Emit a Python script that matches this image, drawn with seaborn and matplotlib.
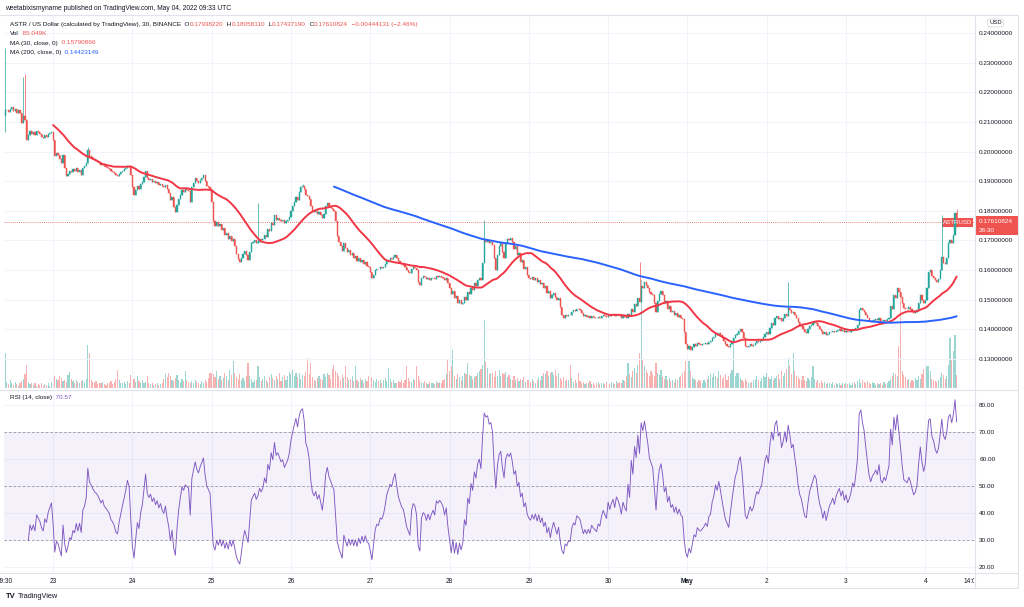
import numpy as np
import pandas as pd
import matplotlib.pyplot as plt
import seaborn as sns
from matplotlib.patches import Rectangle
from matplotlib.lines import Line2D

# ASTR / USD, 30 minute candles, closes in units of 0.0001 USD (one list per day)
apr22 = [2140, 2140, 2135, 2145, 2150, 2138, 2145, 2130, 2140, 2130, 2095, 2120, 2105, 2040, 2055,
         2070, 2060, 2065, 2055, 2070, 2065, 2060, 2050, 2045, 2055, 2050, 2058, 2062, 2066]
apr23 = [2040, 1985, 1995, 1990, 1975, 1960, 1990, 1945, 1918, 1925, 1935, 1930, 1940, 1935, 1945, 1930,
         1938, 1920, 1945, 1950, 1960, 2005, 1985, 1980, 1975, 1970, 1968, 1965, 1960, 1955, 1958, 1950,
         1948, 1945, 1942, 1935, 1932, 1928, 1920, 1918, 1925, 1930, 1935, 1940, 1945, 1952, 1948, 1920]
apr24 = [1880, 1855, 1870, 1885, 1875, 1890, 1898, 1915, 1935, 1910, 1904, 1908, 1898, 1902, 1893, 1897,
         1888, 1892, 1884, 1880, 1886, 1872, 1860, 1838, 1846, 1812, 1795, 1820, 1840, 1855, 1870, 1865,
         1872, 1870, 1868, 1830, 1880, 1895, 1910, 1900, 1895, 1905, 1912, 1920, 1900, 1885, 1880, 1875]
apr25 = [1830, 1765, 1750, 1762, 1748, 1755, 1735, 1742, 1718, 1725, 1705, 1715, 1698, 1705, 1682, 1655,
         1638, 1628, 1640, 1655, 1665, 1650, 1635, 1660, 1690, 1695, 1700, 1690, 1695, 1705, 1700, 1705,
         1718, 1712, 1738, 1732, 1760, 1752, 1785, 1770, 1775, 1770, 1765, 1768, 1760, 1765, 1770, 1780]
apr26 = [1800, 1815, 1830, 1845, 1838, 1865, 1880, 1885, 1875, 1855, 1850, 1840, 1815, 1800, 1795, 1800,
         1790, 1795, 1785, 1775, 1790, 1815, 1825, 1815, 1810, 1805, 1800, 1765, 1715, 1695, 1680, 1665,
         1690, 1675, 1660, 1668, 1652, 1658, 1642, 1648, 1632, 1640, 1628, 1635, 1622, 1628, 1615, 1612]
apr27 = [1595, 1572, 1585, 1600, 1605, 1603, 1610, 1608, 1612, 1620, 1630, 1635, 1640, 1638, 1645, 1650,
         1640, 1630, 1625, 1620, 1618, 1610, 1600, 1595, 1590, 1605, 1610, 1608, 1600, 1560, 1550, 1575,
         1580, 1578, 1570, 1575, 1568, 1572, 1575, 1570, 1580, 1578, 1580, 1578, 1575, 1568, 1572, 1555]
apr28 = [1540, 1520, 1528, 1505, 1512, 1490, 1498, 1485, 1490, 1508, 1500, 1525, 1518, 1540, 1532, 1555,
         1548, 1568, 1575, 1565, 1625, 1700, 1695, 1700, 1690, 1695, 1685, 1640, 1600, 1650, 1680, 1690,
         1660, 1640, 1690, 1705, 1700, 1710, 1695, 1672, 1680, 1650, 1658, 1628, 1635, 1605, 1612, 1585]
apr29 = [1575, 1570, 1578, 1568, 1575, 1560, 1568, 1552, 1558, 1540, 1545, 1522, 1528, 1505, 1515, 1522,
         1510, 1498, 1505, 1475, 1450, 1440, 1450, 1445, 1450, 1448, 1460, 1465, 1462, 1470, 1468, 1465,
         1455, 1445, 1448, 1442, 1445, 1440, 1445, 1442, 1440, 1438, 1442, 1440, 1445, 1448, 1445, 1442]
apr30 = [1450, 1445, 1448, 1450, 1445, 1450, 1448, 1445, 1440, 1445, 1442, 1440, 1452, 1445, 1468, 1460,
         1485, 1478, 1505, 1492, 1545, 1538, 1560, 1550, 1540, 1525, 1520, 1515, 1490, 1460, 1495, 1520,
         1530, 1515, 1488, 1495, 1470, 1478, 1458, 1462, 1448, 1455, 1442, 1448, 1438, 1435, 1390, 1350]
may01 = [1335, 1345, 1330, 1340, 1350, 1345, 1355, 1350, 1348, 1350, 1352, 1355, 1350, 1358, 1360, 1370,
         1375, 1385, 1380, 1388, 1380, 1370, 1360, 1350, 1345, 1340, 1350, 1360, 1370, 1380, 1385, 1395,
         1400, 1390, 1370, 1345, 1340, 1345, 1350, 1345, 1348, 1355, 1360, 1358, 1362, 1365, 1375, 1385]
may02 = [1390, 1385, 1405, 1420, 1415, 1438, 1445, 1435, 1440, 1430, 1438, 1452, 1445, 1472, 1465, 1455,
         1460, 1450, 1440, 1425, 1415, 1410, 1400, 1390, 1388, 1400, 1410, 1415, 1420, 1425, 1422, 1410,
         1400, 1395, 1385, 1390, 1380, 1385, 1390, 1392, 1395, 1390, 1395, 1398, 1400, 1395, 1398, 1392]
may03 = [1395, 1390, 1392, 1395, 1400, 1398, 1405, 1415, 1465, 1472, 1465, 1460, 1450, 1440, 1430, 1425,
         1430, 1432, 1435, 1432, 1440, 1430, 1428, 1432, 1430, 1435, 1440, 1478, 1468, 1515, 1505, 1540,
         1525, 1510, 1490, 1472, 1470, 1468, 1475, 1470, 1462, 1455, 1458, 1465, 1490, 1515, 1500, 1490]
may04 = [1500, 1540, 1595, 1600, 1580, 1575, 1565, 1560, 1570, 1600, 1645, 1625, 1620, 1640, 1690, 1700,
         1690, 1720, 1794, 1761]
first_open = 2120

# wicks that stick out of the bodies: candle index and price (0.0001 USD)
wick_high_at = [0, 11, 12, 50, 153, 180, 290, 384, 474, 567, 576]
wick_high = [2350, 2252, 2262, 2015, 1826, 1890, 1770, 1627, 1560, 1786, 1806]
wick_low_at = [0, 576]
wick_low = [2066, 1744]

# volume per candle, thousands of ASTR
vol_apr22 = [225, 40, 25, 50, 30, 20, 40, 25, 15, 30, 45, 60, 90, 150, 40, 25, 35, 20, 30, 15, 25, 20,
             35, 15, 25, 20, 30, 15, 40]
vol_apr23 = [70, 80, 60, 50, 75, 65, 45, 55, 40, 85, 105, 60, 45, 35, 50, 40, 30, 45, 55, 40, 60, 280,
             225, 50, 40, 30, 45, 25, 35, 30, 40, 25, 20, 35, 30, 45, 25, 40, 60, 115, 50, 35, 30, 40,
             25, 45, 35, 85]
vol_apr24 = [50, 60, 40, 80, 45, 35, 50, 30, 40, 80, 35, 25, 30, 20, 25, 30, 20, 25, 35, 60, 90, 70, 100,
             80, 55, 45, 65, 85, 50, 40, 60, 45, 110, 55, 40, 30, 45, 35, 50, 40, 30, 25, 45, 35, 55, 40,
             65, 100]
vol_apr25 = [100, 90, 70, 110, 60, 80, 50, 65, 95, 75, 55, 120, 85, 175, 100, 70, 60, 90, 50, 65, 45, 75,
             160, 80, 60, 40, 55, 50, 145, 70, 45, 60, 80, 55, 40, 70, 90, 65, 50, 75, 60, 100, 45, 70,
             85, 55, 80, 105]
vol_apr26 = [90, 115, 80, 100, 70, 95, 60, 85, 75, 105, 195, 90, 160, 70, 55, 45, 65, 80, 60, 50, 90, 70,
             100, 85, 60, 125, 150, 110, 95, 75, 55, 85, 65, 145, 70, 50, 60, 80, 45, 145, 55, 40, 65,
             50, 35, 60, 45, 75]
vol_apr27 = [175, 70, 50, 40, 60, 45, 55, 35, 50, 65, 45, 130, 60, 40, 50, 35, 30, 45, 40, 55, 35, 50, 145,
             65, 45, 40, 60, 50, 145, 75, 55, 40, 30, 45, 35, 25, 40, 30, 35, 25, 45, 30, 40, 35, 50, 60,
             90, 180]
vol_apr28 = [110, 140, 245, 75, 60, 90, 70, 50, 80, 100, 90, 160, 85, 75, 60, 70, 80, 95, 110, 125, 150,
             440, 170, 130, 90, 100, 95, 70, 110, 80, 120, 75, 100, 90, 105, 70, 85, 60, 50, 75, 55, 65,
             45, 60, 50, 70, 40, 55]
vol_apr29 = [50, 40, 60, 45, 35, 55, 70, 50, 80, 100, 90, 110, 75, 95, 105, 85, 120, 80, 100, 65, 55, 70,
             45, 60, 50, 150, 65, 40, 55, 35, 95, 45, 30, 40, 25, 35, 30, 45, 25, 35, 20, 30, 40, 25, 35,
             30, 25, 40]
vol_apr30 = [30, 25, 40, 35, 25, 45, 30, 40, 35, 50, 45, 75, 160, 90, 70, 110, 130, 100, 150, 225, 700,
             190, 140, 120, 95, 80, 110, 90, 75, 160, 100, 85, 120, 70, 60, 75, 50, 65, 45, 55, 40, 60,
             50, 70, 80, 100, 110, 175]
vol_may01 = [150, 175, 110, 70, 60, 50, 40, 55, 45, 35, 50, 40, 60, 75, 90, 70, 100, 80, 65, 110, 85, 60,
             70, 90, 55, 80, 100, 120, 290, 75, 95, 100, 65, 50, 40, 60, 45, 35, 30, 40, 50, 60, 75, 55,
             45, 65, 80, 70]
vol_may02 = [100, 70, 60, 80, 50, 65, 75, 90, 60, 110, 80, 100, 125, 195, 140, 90, 225, 110, 80, 70, 60,
             50, 75, 55, 45, 65, 50, 70, 145, 60, 40, 50, 35, 45, 30, 40, 25, 35, 30, 25, 40, 20, 30, 25,
             35, 20, 30, 25]
vol_may03 = [30, 25, 35, 20, 30, 40, 25, 45, 60, 35, 50, 40, 30, 45, 35, 25, 40, 30, 20, 35, 25, 30, 20,
             40, 25, 35, 45, 60, 80, 100, 90, 75, 275, 650, 110, 85, 70, 50, 60, 40, 55, 45, 65, 50, 75,
             60, 90, 125]
vol_may04 = [90, 145, 140, 110, 60, 55, 45, 40, 50, 70, 95, 85, 60, 75, 150, 325, 180, 240, 345, 85]

day_labels = ['23', '24', '25', '26', '27', '28', '29', '30', 'May', '2', '3', '4']
price_ticks = [0.13, 0.14, 0.15, 0.16, 0.17, 0.18, 0.19, 0.20, 0.21, 0.22, 0.23, 0.24]
rsi_ticks = [20, 30, 40, 50, 60, 70, 80]

closes = np.array(apr22 + apr23 + apr24 + apr25 + apr26 + apr27 + apr28 + apr29 + apr30
                  + may01 + may02 + may03 + may04, dtype=float) / 1e4
vols = np.array(vol_apr22 + vol_apr23 + vol_apr24 + vol_apr25 + vol_apr26 + vol_apr27 + vol_apr28
                + vol_apr29 + vol_apr30 + vol_may01 + vol_may02 + vol_may03 + vol_may04, dtype=float)

df = pd.DataFrame({'i': np.arange(len(closes)), 'close': closes, 'vol': vols})
df['open'] = df['close'].shift(1).fillna(first_open / 1e4)
df['high'] = df[['open', 'close']].max(axis=1)
df['low'] = df[['open', 'close']].min(axis=1)
df.loc[wick_high_at, 'high'] = np.array(wick_high) / 1e4
df.loc[wick_low_at, 'low'] = np.array(wick_low) / 1e4
df['ma30'] = df['close'].rolling(30).mean()
df['ma200'] = df['close'].rolling(200).mean()
delta = df['close'].diff()
gain = delta.clip(lower=0).ewm(alpha=1 / 14, adjust=False, min_periods=14).mean()
loss = (-delta.clip(upper=0)).ewm(alpha=1 / 14, adjust=False, min_periods=14).mean()
df['rsi'] = 100 - 100 / (1 + gain / loss)

sns.set_theme(style='white')
plt.rcParams['font.family'] = ['Liberation Sans', 'DejaVu Sans']

W, H = 1024, 607
DARK = '#131722'
GREEN, RED = '#26a69a', '#ef5350'
MA_RED, MA_BLUE, PURPLE = '#f23645', '#2962ff', '#7e57c2'
LINE = '#e0e3eb'


def box(x0, y0, x1, y1):
    return [x0 / W, 1 - y1 / H, (x1 - x0) / W, (y1 - y0) / H]


fig = plt.figure(figsize=(W / 100, H / 100), dpi=100, facecolor='white')
ax_v = fig.add_axes(box(4, 15, 975, 388))
ax = fig.add_axes(box(4, 15, 975, 388), sharex=ax_v)
ax_r = fig.add_axes(box(4, 391, 975, 573), sharex=ax_v)
ax.set_zorder(ax_v.get_zorder() + 1)
ax.patch.set_visible(False)

up = df['close'] >= df['open']
col = np.where(up, GREEN, RED)
vcol = [(0.149, 0.651, 0.604, 0.45) if u else (0.937, 0.325, 0.314, 0.45) for u in up]

# volume
ax_v.bar(df['i'], df['vol'], width=0.7, color=vcol, linewidth=0)

# candles
ax.vlines(df['i'], df['low'], df['high'], colors=col, lw=0.5, zorder=3)
ax.bar(df['i'], (df['close'] - df['open']).abs(), bottom=df[['open', 'close']].min(axis=1),
       width=0.7, color=col, edgecolor=col, linewidth=0.3, zorder=3)
sns.lineplot(data=df, x='i', y='ma30', ax=ax, color=MA_RED, lw=1.4, zorder=4)
sns.lineplot(data=df, x='i', y='ma200', ax=ax, color=MA_BLUE, lw=1.4, zorder=4)
last = df['close'].iloc[-1]
ax.axhline(last, color=RED, lw=0.6, ls=(0, (1, 1.5)), zorder=2)

# RSI
ax_r.axhspan(30, 70, color=PURPLE, alpha=0.08, lw=0)
for v in (70, 50, 30):
    ax_r.axhline(v, color='#9598a1', lw=0.6, ls=(0, (3, 2.5)))
sns.lineplot(data=df, x='i', y='rsi', ax=ax_r, color=PURPLE, lw=0.65)

day_idx = [29 + 48 * k for k in range(12)]
ax_r.set_xlim(-0.73, 587.1)
ax.set_ylim(0.12023, 0.24607)
ax_v.set_ylim(0, 2425)
ax_r.set_ylim(17.78, 85.19)

for a in (ax, ax_v, ax_r):
    a.set_xlabel('')
    a.set_ylabel('')
    for s in a.spines.values():
        s.set_visible(False)
ax_v.tick_params(left=False, labelleft=False, bottom=False, labelbottom=False)
ax_v.set_yticks([])

ax_r.set_xticks(day_idx, labels=day_labels)
ax.tick_params(axis='x', labelbottom=False, length=0)
ax_r.tick_params(axis='x', length=0, pad=3.5, labelsize=4.7, labelcolor=DARK)
for lab in ax_r.get_xticklabels():
    if lab.get_text() == 'May':
        lab.set_fontweight('bold')

ax.yaxis.tick_right()
ax.set_yticks(price_ticks, labels=[f'{p:.8f}' for p in price_ticks])
ax.tick_params(axis='y', length=0, pad=3, labelsize=4.6, labelcolor=DARK)
ax_r.yaxis.tick_right()
ax_r.set_yticks(rsi_ticks, labels=[f'{v:.2f}' for v in rsi_ticks])
ax_r.tick_params(axis='y', length=0, pad=3, labelsize=4.6, labelcolor=DARK)
ax.grid(True, color='#f0f3fa', lw=0.7)
ax_r.grid(True, color='#f0f3fa', lw=0.7)

# clipped edge time labels
clip = Rectangle((0, 1 - 590 / H), 974 / W, 17 / H, transform=fig.transFigure)
for xi, s in ((0, '09:30'), (585, '14:00')):
    t = ax_r.text(xi, -0.044, s, transform=ax_r.get_xaxis_transform(), ha='center', va='center',
                  fontsize=4.7, color=DARK, clip_on=True)
    t.set_clip_path(clip)

# panel borders
for (x0, y0, x1, y1) in [(0, 15, 1018, 15), (0, 389.5, 1018, 389.5), (0, 573, 1018, 573),
                         (0, 588, 1018, 588), (974.5, 15, 974.5, 588), (1018, 15, 1018, 588)]:
    fig.add_artist(Line2D([x0 / W, x1 / W], [1 - y0 / H, 1 - y1 / H], color=LINE, lw=0.8))

# header texts
fig.text(5 / W, 1 - 10.5 / H, 'weetabixismyname published on TradingView.com, May 04, 2022 09:33 UTC',
         fontsize=4.75, color=DARK, va='baseline')
rend = fig.canvas.get_renderer()


def seg_line(x, y, parts, size=4.6):
    for s, c in parts:
        t = fig.text(x / W, 1 - y / H, s, color=c, fontsize=size, va='baseline', ha='left')
        x += t.get_window_extent(rend).width


seg_line(10, 26, [('ASTR / US Dollar (calculated by TradingView), 30, BINANCE', DARK),
                  ('  O', DARK), ('0.17938220', RED), ('  H', DARK), ('0.18058110', RED),
                  ('  L', DARK), ('0.17437190', RED), ('  C', DARK), ('0.17610824', RED),
                  ('  \u22120.00444131 (\u22122.46%)', RED)])
seg_line(10, 35, [('Vol', DARK), ('  85.049K', RED)])
seg_line(10, 44.5, [('MA (30, close, 0)', DARK), ('  0.15790866', RED)])
seg_line(10, 54, [('MA (200, close, 0)', DARK), ('  0.14423149', MA_BLUE)])
seg_line(10, 399, [('RSI (14, close)', DARK), ('  70.57', PURPLE)])

# last price labels
y_last = ax.transData.transform((0, last))[1] / H
fig.add_artist(Rectangle((942 / W, y_last - 4.5 / H), 31 / W, 9 / H, transform=fig.transFigure,
                         color=RED, lw=0))
fig.text(957.5 / W, y_last, 'ASTRUSD', color='white', fontsize=4.4, ha='center', va='center')
fig.add_artist(Rectangle((975 / W, y_last - 13 / H), 43 / W, 19 / H, transform=fig.transFigure,
                         color=RED, lw=0))
fig.text(979 / W, y_last + 0.5 / H, '0.17610824', color='white', fontsize=4.6, va='center')
fig.text(979 / W, y_last - 8 / H, '26:30', color='white', fontsize=4.6, va='center')

fig.text(995.5 / W, 1 - 23 / H, 'USD', color=DARK, fontsize=4.2, ha='center', va='center',
         bbox=dict(boxstyle='round,pad=0.25', fc='white', ec='#d1d4dc', lw=0.5))

# logo
fig.text(6 / W, 1 - 597 / H, 'TV', color=DARK, fontsize=5.5, fontweight='bold', va='center')
fig.text(18 / W, 1 - 597 / H, 'TradingView', color=DARK, fontsize=5.3, va='center')

fig.savefig('out.png', dpi=100, facecolor='white')
